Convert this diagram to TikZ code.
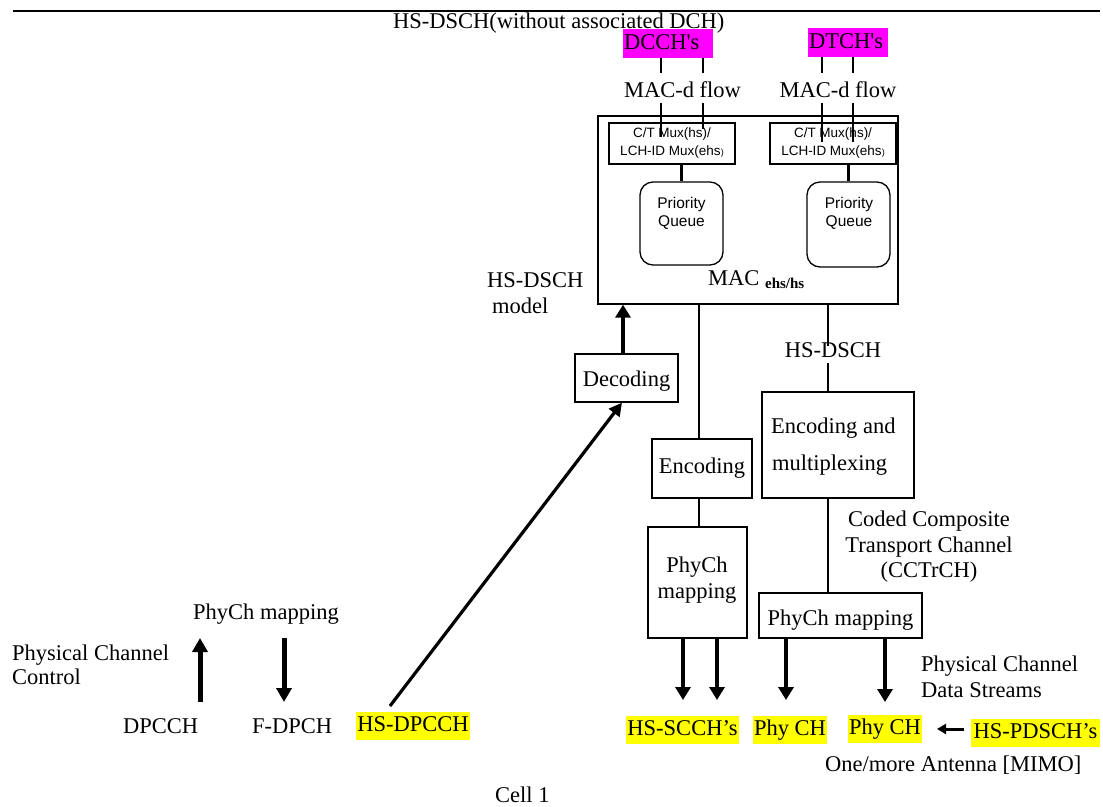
\documentclass[tikz,border=0pt]{standalone}
\usepackage{fontspec}
\setmainfont{Liberation Serif}
\newfontfamily\arialf{Liberation Sans}
\usetikzlibrary{arrows.meta}
\definecolor{hlyellow}{RGB}{255,255,0}
\definecolor{hlmagenta}{RGB}{255,0,255}
\begin{document}
\begin{tikzpicture}[x=1pt,y=-1pt,
  every node/.style={font=\fontsize{22.5}{26}\selectfont, inner sep=0pt},
  box/.style={draw, line width=1.3pt},
  thinl/.style={line width=1.3pt},
  thickl/.style={line width=3pt},
  bigarrow/.style={line width=4pt, -{Triangle[width=15pt,length=13pt]}},
  midarrow/.style={line width=3.2pt, -{Triangle[width=13pt,length=13pt]}},
  smallarrow/.style={line width=3pt, -{Triangle[width=10pt,length=9pt]}},
  hl/.style={fill=hlyellow, minimum height=28, text height=16, text depth=5, inner xsep=1pt},
  mg/.style={fill=hlmagenta, minimum height=29, text height=16, text depth=5, inner xsep=1pt, text width=#1, align=left},
  sans/.style={font=\arialf\fontsize{13.5}{18}\selectfont, align=center},
  pqtext/.style={font=\arialf\fontsize{15.5}{18}\selectfont, anchor=base},
  lbl/.style={anchor=base west},
  clbl/.style={anchor=base},
]
\useasboundingbox (0,0) rectangle (1103,806);

% top rule and title
\draw[thinl] (13,11) -- (1100,11);
\node[lbl] (title) at (393,28) {HS-DSCH(without associated DCH)};

% logical channels
\node[mg=88pt] (dcch) at (668,43.5) {DCCH\textquotesingle s};
\node[mg=78pt] (dtch) at (848,42.5) {DTCH\textquotesingle s};
\node[clbl] (macd1) at (682.5,97) {MAC-d flow};
\node[clbl] (macd2) at (838,97) {MAC-d flow};

% MAC-ehs/hs entity
\node[box, minimum width=300, minimum height=188] (mac) at (748,210) {};
\node[box, sans, minimum width=126, minimum height=41] (ct1) at (672,143.5) {C/T Mux(hs)/\\LCH-ID Mux(ehs{\fontsize{9}{9}\selectfont)}};
\node[box, sans, minimum width=126, minimum height=41] (ct2) at (833,143.5) {C/T Mux(hs)/\\LCH-ID Mux(ehs{\fontsize{9}{9}\selectfont)}};
\node[box, rounded corners=13pt, minimum width=83, minimum height=83] (pq1) at (681.5,223.5) {};
\node[box, rounded corners=13pt, minimum width=83, minimum height=85] (pq2) at (848.5,224.5) {};
\node[pqtext] (pq1a) at (681.5,208) {Priority};
\node[pqtext] (pq1b) at (681.5,226) {Queue};
\node[pqtext] (pq2a) at (849,208) {Priority};
\node[pqtext] (pq2b) at (849,226) {Queue};
\node[lbl] (maclbl) at (708,285) {MAC \raisebox{-3pt}{\fontsize{15}{15}\selectfont\bfseries ehs/hs}};

\node[lbl] (hsm1) at (487,287) {HS-DSCH};
\node[lbl] (hsm2) at (492,313) {model};

% flow lines into MAC
\coordinate (x1) at (661,0);
\coordinate (x2) at (703,0);
\coordinate (x3) at (822,0);
\coordinate (x4) at (853,0);
\draw[thinl] (dcch.south -| x1) -- ++(0,15);
\draw[thinl] (dcch.south -| x2) -- ++(0,15);
\draw[thinl] (dtch.south -| x3) -- ++(0,16);
\draw[thinl] (dtch.south -| x4) -- ++(0,16);
\draw[thinl] ([yshift=-6pt]macd1.south -| x1) -- ([yshift=-15pt]ct1.north -| x1);
\draw[thinl] ([yshift=-6pt]macd1.south -| x2) -- ([yshift=-7pt]ct1.north -| x2);
\draw[thinl] ([yshift=-6pt]macd2.south -| x3) -- ([yshift=-20pt]ct2.north -| x3);
\draw[thinl] ([yshift=-6pt]macd2.south -| x4) -- ([yshift=-20pt]ct2.north -| x4);
\draw[thickl] (ct1.south -| pq1.north) -- (pq1.north);
\draw[thickl] (ct2.south -| pq2.north) -- (pq2.north);

% lower chain
\node[box, minimum width=103, minimum height=48, text height=21, text depth=5] (dec) at (626.5,378) {Decoding};
\node[box, minimum width=100, minimum height=59, text height=15, text depth=5] (enc) at (702,468.5) {Encoding};
\node[box, minimum width=152, minimum height=106] (encmux) at (838,445) {};
\node[lbl] (em1) at (771,433) {Encoding and};
\node[lbl] (em2) at (772,470) {multiplexing};
\node[clbl] (hsdsch) at (833,357) {HS-DSCH};
\node[box, minimum width=99, minimum height=111] (pm1) at (697.5,582.5) {};
\node[clbl] (pmt1) at (697,572) {PhyCh};
\node[clbl] (pmt2) at (697,598) {mapping};
\node[box, minimum width=163, minimum height=45, text height=24, text depth=5] (pm2) at (840.5,615.5) {PhyCh mapping};

\coordinate (xm) at (828,0);
\coordinate (xe) at (699,0);
\draw[thinl] (mac.south -| xe) -- (enc.north -| xe);
\draw[thinl] (enc.south -| xe) -- (pm1.north -| xe);
\draw[thinl] (mac.south -| xm) -- ([yshift=-4pt]hsdsch.north -| xm);
\draw[thinl] ([yshift=-6pt]hsdsch.south -| xm) -- (encmux.north -| xm);
\draw[thinl] (encmux.south -| xm) -- (pm2.north -| xm);
\draw[bigarrow] (dec.north -| 623,0) -- (mac.south -| 623,0);

\node[clbl] (cct1) at (929,526) {Coded Composite};
\node[clbl] (cct2) at (929,552) {Transport Channel};
\node[clbl] (cct3) at (929,577) {(CCTrCH)};

% physical channels
\node[lbl] (pcds1) at (921,671) {Physical Channel};
\node[lbl] (pcds2) at (921,697) {Data Streams};
\node[hl, minimum width=113] (hsscch) at (682.5,730) {HS-SCCH's};
\node[hl, minimum width=74] (phy1) at (790,729.5) {Phy CH};
\node[hl, minimum width=74] (phy2) at (885,728.5) {Phy CH};
\node[hl, minimum width=129] (hspdsch) at (1035.5,732.5) {HS-PDSCH's};
\node[lbl] (mimo) at (825,771) {One/more Antenna [MIMO]};
\node[lbl] (cell) at (495,802) {Cell 1};

\coordinate (a1) at (683,700);
\coordinate (a2) at (717,700);
\coordinate (a3) at (786,700);
\coordinate (a4) at (885,702);
\draw[bigarrow] (pm1.south -| a1) -- (a1);
\draw[bigarrow] (pm1.south -| a2) -- (a2);
\draw[bigarrow] (pm2.south -| a3) -- (a3);
\draw[bigarrow] (pm2.south -| a4) -- (a4);
\coordinate (p1) at (964,729);
\coordinate (p2) at (937,729);
\draw[smallarrow] (p1) -- (p2);

% left side
\node[lbl] (pcm) at (193,619) {PhyCh mapping};
\node[lbl] (pcc1) at (12,660) {Physical Channel};
\node[lbl] (pcc2) at (12,684) {Control};
\node[lbl] (dpcch) at (123,733) {DPCCH};
\node[lbl] (fdpch) at (252,733) {F-DPCH};
\node[hl, minimum width=114] (hsdpcch) at (413,725.5) {HS-DPCCH};

\coordinate (u1) at (200,702);
\coordinate (u2) at (200,638);
\coordinate (v1) at (284,638);
\coordinate (v2) at (284,702);
\draw[line width=5pt, -{Triangle[width=15pt,length=14pt]}] (u1) -- (u2);
\draw[line width=5pt, -{Triangle[width=15pt,length=14pt]}] (v1) -- (v2);

\coordinate (hsa) at (390,706);
\draw[midarrow] (hsa) -- ([xshift=-4.5pt]dec.south);
\end{tikzpicture}
\end{document}
